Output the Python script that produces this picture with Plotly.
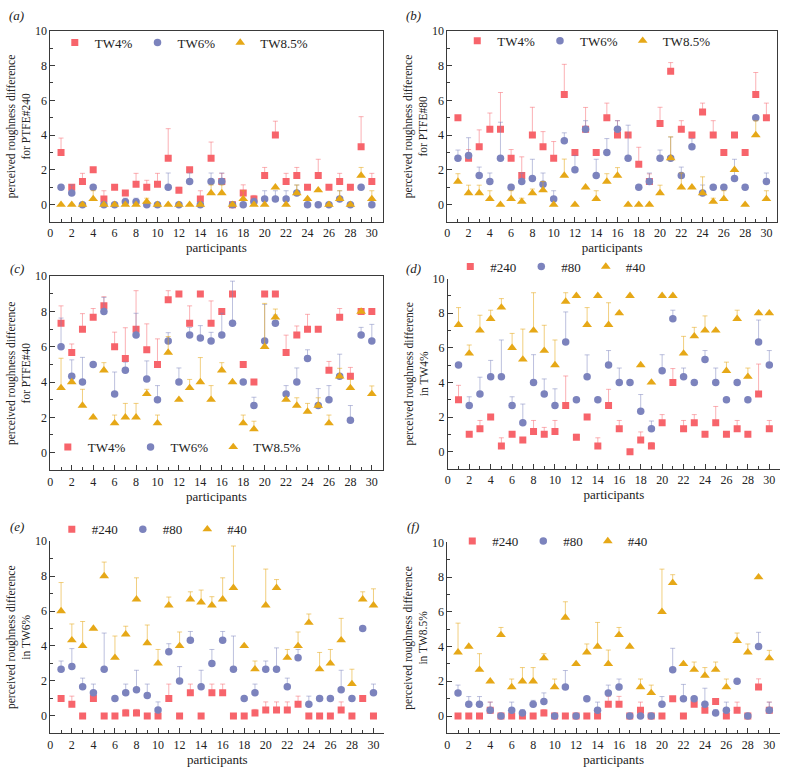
import plotly.graph_objects as go

W, H = 787, 773
participants = list(range(1, 31))

# ---- means (perceived roughness difference) ----
P240_TW4 = [3.0, 1.0, 1.33, 2.0, 0.33, 1.0, 0.67, 1.17, 1.0, 1.17, 2.67, 0.83, 2.0, 0.33, 2.67,
            1.33, 0.0, 0.67, 0.33, 1.67, 4.0, 1.33, 1.67, 1.0, 1.67, 1.0, 1.33, 1.0, 3.33, 1.33]
P80_TW4 = [5.0, 2.67, 3.33, 4.33, 4.33, 2.67, 1.67, 4.0, 3.33, 2.67, 6.33, 3.0, 4.33, 3.0, 5.0,
           4.0, 4.0, 2.33, 1.33, 4.67, 7.67, 4.33, 4.0, 5.33, 4.0, 3.0, 4.0, 3.0, 6.33, 5.0]
P40_TW4 = [7.33, 5.67, 7.0, 7.67, 8.33, 6.0, 5.33, 7.0, 5.83, 5.0, 8.67, 9.0, 7.33, 9.0, 7.33,
           8.0, 9.0, 5.0, 4.0, 9.0, 9.0, 5.67, 6.67, 7.0, 7.0, 4.67, 7.67, 4.33, 8.0, 8.0]
P240_TW6 = [1.0, 0.67, 0.0, 1.0, 0.0, 0.0, 0.17, 0.17, 0.0, 0.0, 1.0, 0.0, 1.33, 0.0, 1.33,
            1.33, 0.0, 0.0, 0.17, 0.33, 0.33, 0.33, 0.67, 0.0, 0.0, 0.0, 0.33, 0.0, 1.0, 0.0]
P80_TW6 = [2.67, 2.83, 1.67, 1.33, 2.67, 1.0, 1.33, 1.5, 1.17, 0.33, 3.67, 2.0, 4.33, 1.67, 3.0,
           4.33, 2.67, 1.0, 1.33, 2.67, 2.67, 1.67, 3.33, 0.67, 1.0, 1.0, 1.5, 1.0, 5.0, 1.33]
P40_TW6 = [6.0, 4.33, 4.0, 5.0, 8.0, 3.33, 4.67, 6.67, 4.17, 3.0, 6.33, 4.0, 6.67, 6.5, 6.33,
           6.67, 7.33, 4.0, 2.67, 6.33, 7.33, 3.33, 4.0, 5.33, 2.67, 3.0, 4.33, 1.83, 6.67, 6.33]
P240_TW85 = [0.0, 0.0, 0.0, 0.33, 0.0, 0.0, 0.0, 0.0, 0.17, 0.0, 0.0, 0.0, 0.0, 0.0, 0.67,
             0.67, 0.0, 0.33, 0.0, 0.0, 1.0, 0.0, 0.67, 0.33, 0.83, 0.0, 0.33, 0.0, 1.67, 0.33]
P80_TW85 = [1.33, 0.67, 0.67, 0.33, 0.0, 0.33, 0.17, 0.67, 0.83, 0.0, 1.67, 0.0, 1.0, 0.33, 1.33,
            1.67, 0.0, 0.0, 0.0, 0.67, 2.67, 1.0, 1.0, 0.67, 0.17, 0.33, 2.0, 0.0, 4.0, 0.33]
P40_TW85 = [3.67, 4.0, 2.67, 2.0, 4.67, 1.67, 2.0, 2.0, 3.33, 1.67, 5.67, 3.0, 3.67, 4.0, 3.0,
            4.67, 4.0, 1.67, 1.33, 6.0, 7.67, 3.0, 2.67, 2.33, 2.67, 1.67, 4.33, 3.67, 8.0, 3.33]

# ---- upper error bars ----
E240_TW4 = [0.83, 0, 0.47, 0, 0.47, 0, 0.13, 0.63, 0.4, 0.63, 1.7, 0.17, 0, 0.47, 0.93,
            0.47, 0, 0.47, 0.2, 0.47, 0.8, 0.47, 0.47, 0, 0.94, 0, 0.47, 0, 1.73, 0.47]
E80_TW4 = [0, 0.5, 0.97, 0.94, 2.12, 0.5, 1.08, 1.6, 0.87, 0.96, 1.74, 0, 1.26, 0, 0.84,
           0.83, 0, 0.97, 0.44, 0.93, 0.5, 0.5, 0, 0.51, 0.83, 0, 0, 0, 1.27, 0.84]
E40_TW4 = [0.99, 0.49, 0.88, 0.5, 0.51, 0.83, 1.75, 2.18, 1.47, 1.45, 0.51, 0, 0.99, 0, 1.27,
           0, 0, 0, 0, 0, 0, 0.99, 0.51, 0.84, 0, 0.5, 0.5, 0.5, 0, 0]
E240_TW6 = [0, 0.46, 0, 0, 0, 0, 0.2, 0.2, 0, 0, 0.82, 0, 0.49, 0, 0.49,
            0.49, 0, 0, 0.2, 0.47, 0.47, 0.47, 0.46, 0, 0, 0, 0.47, 0, 0, 0]
E80_TW6 = [0.47, 1.02, 0.49, 0.49, 2.07, 0, 0.49, 1.11, 0.65, 0.47, 0.46, 0.82, 0.5, 0.94, 0.8,
           0.5, 1.9, 0, 0.49, 0.47, 1.22, 0.49, 0.47, 0.46, 0, 0, 1.11, 0, 0, 0.49]
E40_TW6 = [1.63, 0.93, 1.4, 0, 0.8, 1.24, 0.46, 1.23, 1.03, 0.8, 0.47, 0.8, 0.43, 0.7, 0.49,
           1.23, 2.39, 0, 0.47, 2.07, 0.47, 0.47, 0.8, 0.5, 0.96, 0.8, 1.25, 0.84, 0.43, 0.94]
E240_TW85 = [0, 0, 0, 0.47, 0, 0, 0, 0, 0.2, 0, 0, 0, 0, 0, 0.46,
             0.46, 0, 0.47, 0, 0, 0, 0, 0.46, 0, 0, 0, 0.47, 0, 0.47, 0.47]
E80_TW85 = [0.45, 0.45, 0.45, 0.47, 0, 0.47, 0.2, 0.23, 0.5, 0, 0.95, 0, 0, 0.47, 0.45,
            0.46, 0, 0, 0, 0.45, 1.23, 0.82, 0, 0.93, 0.2, 0.47, 0, 0, 0.82, 0.47]
E40_TW85 = [1.68, 0, 0.92, 0, 0.43, 0.46, 0.79, 0.79, 0.26, 0.46, 0.91, 0, 0.48, 1.39, 0.8,
            0.43, 0, 0.46, 0.45, 2.46, 0.47, 0, 0.44, 0.46, 0.44, 0.46, 0.45, 0.48, 0, 0.45]

TW_NAMES = ["TW4%", "TW6%", "TW8.5%"]
PTFE_NAMES = ["#240", "#80", "#40"]
X_TICKS = list(range(0, 31, 2))
Y_TICKS = list(range(0, 11, 2))

FONT = "Liberation Serif, Times New Roman, serif"
AXC = "#3a3a3a"
COLORS = ["#F7646B", "#7C83BD", "#E6A817"]
ERRC = ["rgba(247,100,107,0.5)", "rgba(124,131,189,0.5)", "rgba(230,168,23,0.55)"]
SYMBOLS = ["square", "circle", "triangle-up"]
SIZES = [7, 7.5, 8.5]

def px(x):
    return x / W

def py(y):
    return 1 - y / H

# legend tuple: (x of first legend symbol, y of legend row) in reference pixels
panels = [
    dict(label="(a)", lab=(14, 9), names=TW_NAMES,
         data=[(P240_TW4, E240_TW4), (P240_TW6, E240_TW6), (P240_TW85, E240_TW85)],
         ytitle="perceived roughness difference<br>for PTFE#240",
         box=(47.5, 381, 24, 217), frame=True, leg=(74, 42)),
    dict(label="(b)", lab=(412, 9), names=TW_NAMES,
         data=[(P80_TW4, E80_TW4), (P80_TW6, E80_TW6), (P80_TW85, E80_TW85)],
         ytitle="perceived roughness difference<br>for PTFE#80",
         box=(446, 777, 24, 217), frame=True, leg=(478, 40)),
    dict(label="(c)", lab=(14, 264), names=TW_NAMES,
         data=[(P40_TW4, E40_TW4), (P40_TW6, E40_TW6), (P40_TW85, E40_TW85)],
         ytitle="perceived roughness difference<br>for PTFE#40",
         box=(47.5, 381, 271.7, 467.5), frame=True, leg=(67, 450)),
    dict(label="(d)", lab=(412, 264), names=PTFE_NAMES,
         data=[(P240_TW4, E240_TW4), (P80_TW4, E80_TW4), (P40_TW4, E40_TW4)],
         ytitle="perceived roughness difference<br>in TW4%",
         box=(446.5, 780, 274, 466.2), frame=False, leg=(471, 268)),
    dict(label="(e)", lab=(14, 524), names=PTFE_NAMES,
         data=[(P240_TW6, E240_TW6), (P80_TW6, E80_TW6), (P40_TW6, E40_TW6)],
         ytitle="perceived roughness difference<br>in TW6%",
         box=(47.5, 382.7, 539, 733), frame=False, leg=(71, 533)),
    dict(label="(f)", lab=(412, 524), names=PTFE_NAMES,
         data=[(P240_TW85, E240_TW85), (P80_TW85, E80_TW85), (P40_TW85, E40_TW85)],
         ytitle="perceived roughness difference<br>in TW8.5%",
         box=(446, 780, 540.3, 733), frame=False, leg=(473, 545)),
]

fig = go.Figure()
layout = dict(width=W, height=H, margin=dict(l=0, r=0, t=0, b=0),
              paper_bgcolor="white", plot_bgcolor="white",
              font=dict(family=FONT, size=12, color="#222"),
              annotations=[])

for i, p in enumerate(panels):
    n = i + 1
    xname = "x" if n == 1 else f"x{n}"
    yname = "y" if n == 1 else f"y{n}"
    lname = "legend" if n == 1 else f"legend{n}"
    for k, ((vals, errs), name) in enumerate(zip(p["data"], p["names"])):
        fig.add_trace(go.Scatter(
            x=participants, y=vals, mode="markers", name=name,
            xaxis=xname, yaxis=yname, legend=lname,
            marker=dict(symbol=SYMBOLS[k], size=SIZES[k], color=COLORS[k], line=dict(width=0)),
            error_y=dict(type="data", symmetric=False, array=errs,
                         arrayminus=[0] * len(errs), color=ERRC[k], thickness=1, width=2.5),
        ))
    x0, x1, y0, y1 = p["box"]
    axcommon = dict(showline=True, linecolor=AXC, linewidth=1, showgrid=False, zeroline=False,
                    ticks="inside", ticklen=5, tickwidth=1, tickcolor=AXC,
                    mirror=p["frame"], tickfont=dict(family=FONT, size=12, color="#222"))
    layout["xaxis" if n == 1 else f"xaxis{n}"] = dict(
        axcommon, domain=[px(x0), px(x1)], anchor=yname, range=[0, 31],
        tickvals=X_TICKS,
        minor=dict(ticks="inside", dtick=1, tick0=0, ticklen=3, tickcolor=AXC, showgrid=False),
        title=dict(text="participants", font=dict(family=FONT, size=13), standoff=0))
    layout["yaxis" if n == 1 else f"yaxis{n}"] = dict(
        axcommon, domain=[py(y1), py(y0)], anchor=xname, range=[-1, 10],
        tickvals=Y_TICKS,
        minor=dict(ticks="inside", dtick=1, tick0=0, ticklen=3, tickcolor=AXC, showgrid=False),
        title=dict(text=p["ytitle"], font=dict(family=FONT, size=11.5), standoff=1))
    lx, ly = p["leg"]
    layout[lname] = dict(orientation="h", x=px(lx - 22), y=py(ly - 6), xanchor="left",
                         yanchor="middle", bgcolor="rgba(0,0,0,0)",
                         font=dict(family=FONT, size=13, color="#222"),
                         itemwidth=30, tracegroupgap=0)
    layout["annotations"].append(dict(
        text=f"<i>{p['label']}</i>", x=px(p["lab"][0]), y=py(p["lab"][1]),
        xref="paper", yref="paper", showarrow=False, xanchor="center", yanchor="middle",
        font=dict(family=FONT, size=13, color="#222")))

fig.update_layout(**layout)
fig.write_html("out.html", config={"displayModeBar": False},
               post_script="document.body.style.margin='0';document.body.style.overflow='hidden';")
